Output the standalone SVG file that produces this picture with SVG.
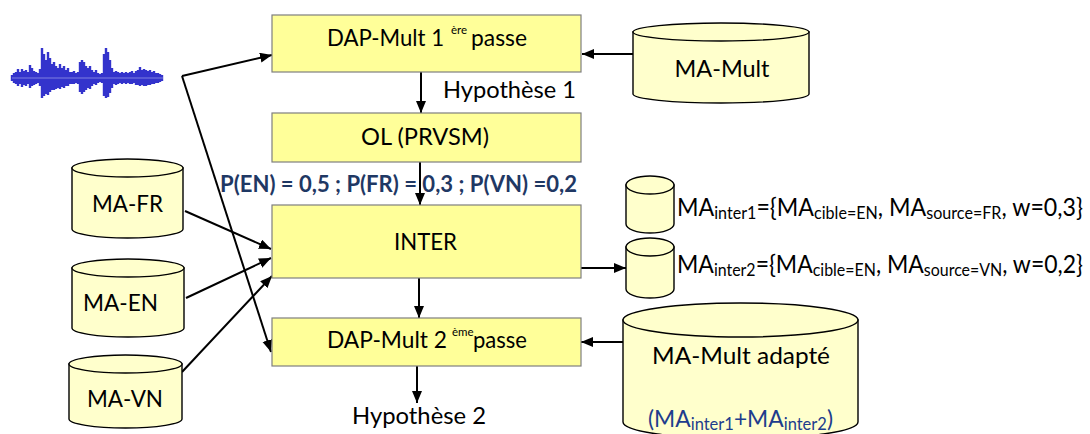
<svg xmlns="http://www.w3.org/2000/svg" width="1090" height="434" viewBox="0 0 1090 434">
<defs>
<marker id="ah" markerUnits="userSpaceOnUse" markerWidth="13" markerHeight="11" refX="12" refY="5" orient="auto">
<path d="M0,0 L12,5 L0,10 z" fill="#000"/>
</marker>
</defs>
<style>
.box{fill:#ffff99;stroke:#7f7f7f;stroke-width:1.2}
.cyl{fill:#ffffcc;stroke:#000;stroke-width:1.4}
.t{font-family:Lato,"Liberation Sans",sans-serif;font-size:23.5px;fill:#000}
.c{text-anchor:middle}
.sup{font-family:Lato,"Liberation Sans",sans-serif;font-size:11.5px;fill:#000}
.prob{font-family:Lato,"Liberation Sans",sans-serif;font-size:22px;font-weight:bold;fill:#1f3864}
.big{font-family:Lato,"Liberation Sans",sans-serif;font-size:24.5px;fill:#000}
.sub{font-size:17px}
.blue{fill:#203c8c}
.ln{fill:none;stroke:#000;stroke-width:2;marker-end:url(#ah)}
.wave{fill:none;stroke:#3333cc;stroke-width:2.4}
</style>
<rect width="1090" height="434" fill="#fff"/>

<g id="waveform">
<path class="wave" d="M12 75V81M14 73V83M16 72V84M18 69V86M20 72V84M22 69V87M24 71V85M26 70V86M28 72V84M30 65V88M32 68V86M34 71V85M36 72V84M38 73V83M40 69V86M42 48V98M44 54V96M46 60V94M48 52V95M50 58V92M52 64V90M54 62V90M56 66V89M58 68V88M60 64V89M62 68V87M64 66V88M66 70V86M68 68V86M70 72V84M72 72V84M74 71V84M76 73V83M78 72V84M80 62V92M82 60V94M84 62V92M86 66V90M88 68V88M90 66V89M92 70V86M94 72V84M96 70V85M98 73V83M100 74V82M102 73V83M104 54V96M106 48V98M108 52V97M110 60V93M112 68V88M114 72V84M116 71V85M118 72V84M120 73V83M122 72V84M124 73V83M126 72V84M128 73V83M130 72V84M132 71V84M134 73V83M136 71V85M138 70V85M140 67V86M142 70V85M144 69V86M146 70V86M148 71V85M150 70V85M152 72V84M154 71V84M156 73V83M158 73V83M160 74V82M162 75V81"/>
<path d="M12 78H163" stroke="#8080e0" stroke-width="1" fill="none"/>
</g>

<g id="connectors">
<path class="ln" d="M182,76 L272,55"/>
<path class="ln" d="M182,76 L271,352"/>
<path class="ln" d="M633,54 L582,54"/>
<path class="ln" d="M421,72 L421,113"/>
<path class="ln" d="M420,162 L420,205"/>
<path class="ln" d="M185,211 L271,249"/>
<path class="ln" d="M186,298 L271,258"/>
<path class="ln" d="M182,372 L272,276"/>
<path class="ln" d="M581,268 L626,268"/>
<path class="ln" d="M419,278 L419,318"/>
<path class="ln" d="M623,342 L581,342"/>
<path class="ln" d="M417,366 L417,403"/>
</g>

<g id="dap1">
<rect class="box" x="272" y="15" width="309" height="57"/>
<text class="t" x="327" y="46" textLength="117" lengthAdjust="spacingAndGlyphs">DAP-Mult 1</text>
<text class="sup" x="451" y="34">ère</text>
<text class="t" x="471" y="46" textLength="56" lengthAdjust="spacingAndGlyphs">passe</text>
</g>

<g id="ma-mult">
<path class="cyl" d="M633,32 V94 A88,9 0 0 0 809,94 V32 Z"/>
<ellipse class="cyl" cx="721" cy="32" rx="88" ry="9"/>
<text class="t c" x="722" y="77" textLength="95" lengthAdjust="spacingAndGlyphs">MA-Mult</text>
</g>

<g id="hyp1">
<text class="t" x="443" y="98" textLength="133" lengthAdjust="spacingAndGlyphs">Hypothèse 1</text>
</g>

<g id="ol">
<rect class="box" x="272" y="113" width="309" height="49"/>
<text class="t" x="361" y="145" textLength="128" lengthAdjust="spacingAndGlyphs">OL (PRVSM)</text>
</g>

<g id="prob">
<text class="prob" x="220" y="192" textLength="357" lengthAdjust="spacingAndGlyphs">P(EN) = 0,5 ; P(FR) = 0,3 ; P(VN) =0,2</text>
</g>

<g id="inter">
<rect class="box" x="272" y="205" width="309" height="73"/>
<text class="t" x="394" y="250" textLength="63" lengthAdjust="spacingAndGlyphs">INTER</text>
</g>

<g id="ma-fr">
<path class="cyl" d="M72,168 V229 A55.5,9 0 0 0 183,229 V168 Z"/>
<ellipse class="cyl" cx="127.5" cy="168" rx="55.5" ry="9"/>
<text class="t" x="92" y="212" textLength="71" lengthAdjust="spacingAndGlyphs">MA-FR</text>
</g>

<g id="ma-en">
<path class="cyl" d="M72,268 V328 A56,9 0 0 0 184,328 V268 Z"/>
<ellipse class="cyl" cx="128" cy="268" rx="56" ry="9"/>
<text class="t" x="83" y="311" textLength="75" lengthAdjust="spacingAndGlyphs">MA-EN</text>
</g>

<g id="ma-vn">
<path class="cyl" d="M69,364 V419 A56.5,9 0 0 0 182,419 V364 Z"/>
<ellipse class="cyl" cx="125.5" cy="364" rx="56.5" ry="9"/>
<text class="t" x="87" y="407" textLength="76" lengthAdjust="spacingAndGlyphs">MA-VN</text>
</g>

<g id="ma-inter1">
<path class="cyl" d="M626,185 V224 A24,9 0 0 0 674,224 V185 Z"/>
<ellipse class="cyl" cx="650" cy="185" rx="24" ry="9"/>
<text class="big" x="677" y="216" textLength="406" lengthAdjust="spacingAndGlyphs">MA<tspan class="sub" dy="3">inter1</tspan><tspan dy="-3">={MA</tspan><tspan class="sub" dy="3">cible=EN</tspan><tspan dy="-3">, MA</tspan><tspan class="sub" dy="3">source=FR</tspan><tspan dy="-3">, w=0,3}</tspan></text>
</g>

<g id="ma-inter2">
<path class="cyl" d="M626,247 V289 A24,9 0 0 0 674,289 V247 Z"/>
<ellipse class="cyl" cx="650" cy="247" rx="24" ry="9"/>
<text class="big" x="677" y="273" textLength="406" lengthAdjust="spacingAndGlyphs">MA<tspan class="sub" dy="3">inter2</tspan><tspan dy="-3">={MA</tspan><tspan class="sub" dy="3">cible=EN</tspan><tspan dy="-3">, MA</tspan><tspan class="sub" dy="3">source=VN</tspan><tspan dy="-3">, w=0,2}</tspan></text>
</g>

<g id="dap2">
<rect class="box" x="272" y="318" width="309" height="48"/>
<text class="t" x="327" y="348" textLength="120" lengthAdjust="spacingAndGlyphs">DAP-Mult 2</text>
<text class="sup" x="452" y="336">ème</text>
<text class="t" x="473" y="348" textLength="54" lengthAdjust="spacingAndGlyphs">passe</text>
</g>

<g id="ma-mult-adapte">
<path class="cyl" d="M623,320 V422 A117.5,17 0 0 0 858,422 V320 Z"/>
<ellipse class="cyl" cx="740.5" cy="320" rx="117.5" ry="17"/>
<text class="t c" x="741" y="364" textLength="178" lengthAdjust="spacingAndGlyphs">MA-Mult adapté</text>
<text class="t blue" x="648" y="427" textLength="185" lengthAdjust="spacingAndGlyphs">(MA<tspan class="sub" dy="3">inter1</tspan><tspan dy="-3">+MA</tspan><tspan class="sub" dy="3">inter2</tspan><tspan dy="-3">)</tspan></text>
</g>

<g id="hyp2">
<text class="t" x="352" y="424" textLength="134" lengthAdjust="spacingAndGlyphs">Hypothèse 2</text>
</g>
</svg>
